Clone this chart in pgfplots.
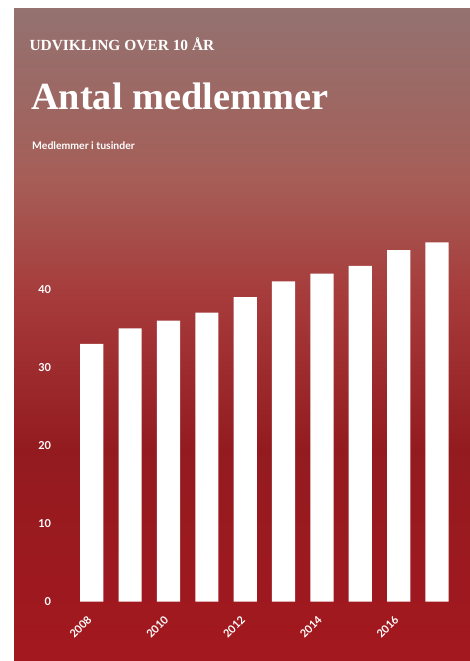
\documentclass[border=0pt]{standalone}
\usepackage{pgfplots}
\pgfplotsset{compat=1.18}
\usepackage{fontspec}
\setmainfont{Liberation Serif}
\newfontfamily\lato{Lato}
\definecolor{bgA}{HTML}{A3181E}
\definecolor{bgB}{HTML}{931B20}
\definecolor{bgC}{HTML}{A63A3A}
\definecolor{bgD}{HTML}{A65E57}
\definecolor{bgE}{HTML}{937270}
\begin{document}
\begin{tikzpicture}
\useasboundingbox (0bp,0bp) rectangle (470bp,661bp);
\fill[white] (0bp,0bp) rectangle (470bp,661bp);
\shade[top color=bgB, bottom color=bgA] (14bp,0bp) rectangle (470bp,211.5bp);
\shade[top color=bgC, bottom color=bgB] (14bp,211bp) rectangle (470bp,361.5bp);
\shade[top color=bgD, bottom color=bgC] (14bp,361bp) rectangle (470bp,481.5bp);
\shade[top color=bgE, bottom color=bgD] (14bp,481bp) rectangle (470bp,652bp);
\begin{axis}[
  at={(72.6bp,59.3bp)}, anchor=south west,
  scale only axis, width=383.6bp, height=390.5bp,
  xmin=-0.5, xmax=9.5, ymin=0, ymax=50,
  axis line style={draw=none}, major tick length=0pt,
  ytick={0,10,20,30,40},
  xtick={0,2,4,6,8},
  xticklabels={2008,2010,2012,2014,2016},
  /pgf/number format/assume math mode=true,
  ticklabel style={text=white, font=\lato\bfseries\fontsize{11}{13}\selectfont},
  yticklabel style={anchor=east, xshift=-18bp},
  xticklabel style={xshift=-2bp, yshift=-16bp, rotate=45, anchor=east, inner sep=0pt},
]
\addplot[ybar, bar width=0.605, fill=white, draw=none]
  coordinates {(0,33) (1,35) (2,36) (3,37) (4,39) (5,41) (6,42) (7,43) (8,45) (9,46)};
\end{axis}
\node[anchor=base west, inner sep=0pt, text=white, font=\bfseries\fontsize{15.5}{18}\selectfont] at (29.3bp,610.3bp) {UDVIKLING OVER 10 ÅR};
\node[anchor=base west, inner sep=0pt, text=white, font=\bfseries\fontsize{38.5}{44}\selectfont] at (31bp,551.7bp) {Antal medlemmer};
\node[anchor=base west, inner sep=0pt, text=white, font=\lato\bfseries\fontsize{10.5}{12}\selectfont] at (32bp,511bp) {Medlemmer i tusinder};
\end{tikzpicture}
\end{document}
